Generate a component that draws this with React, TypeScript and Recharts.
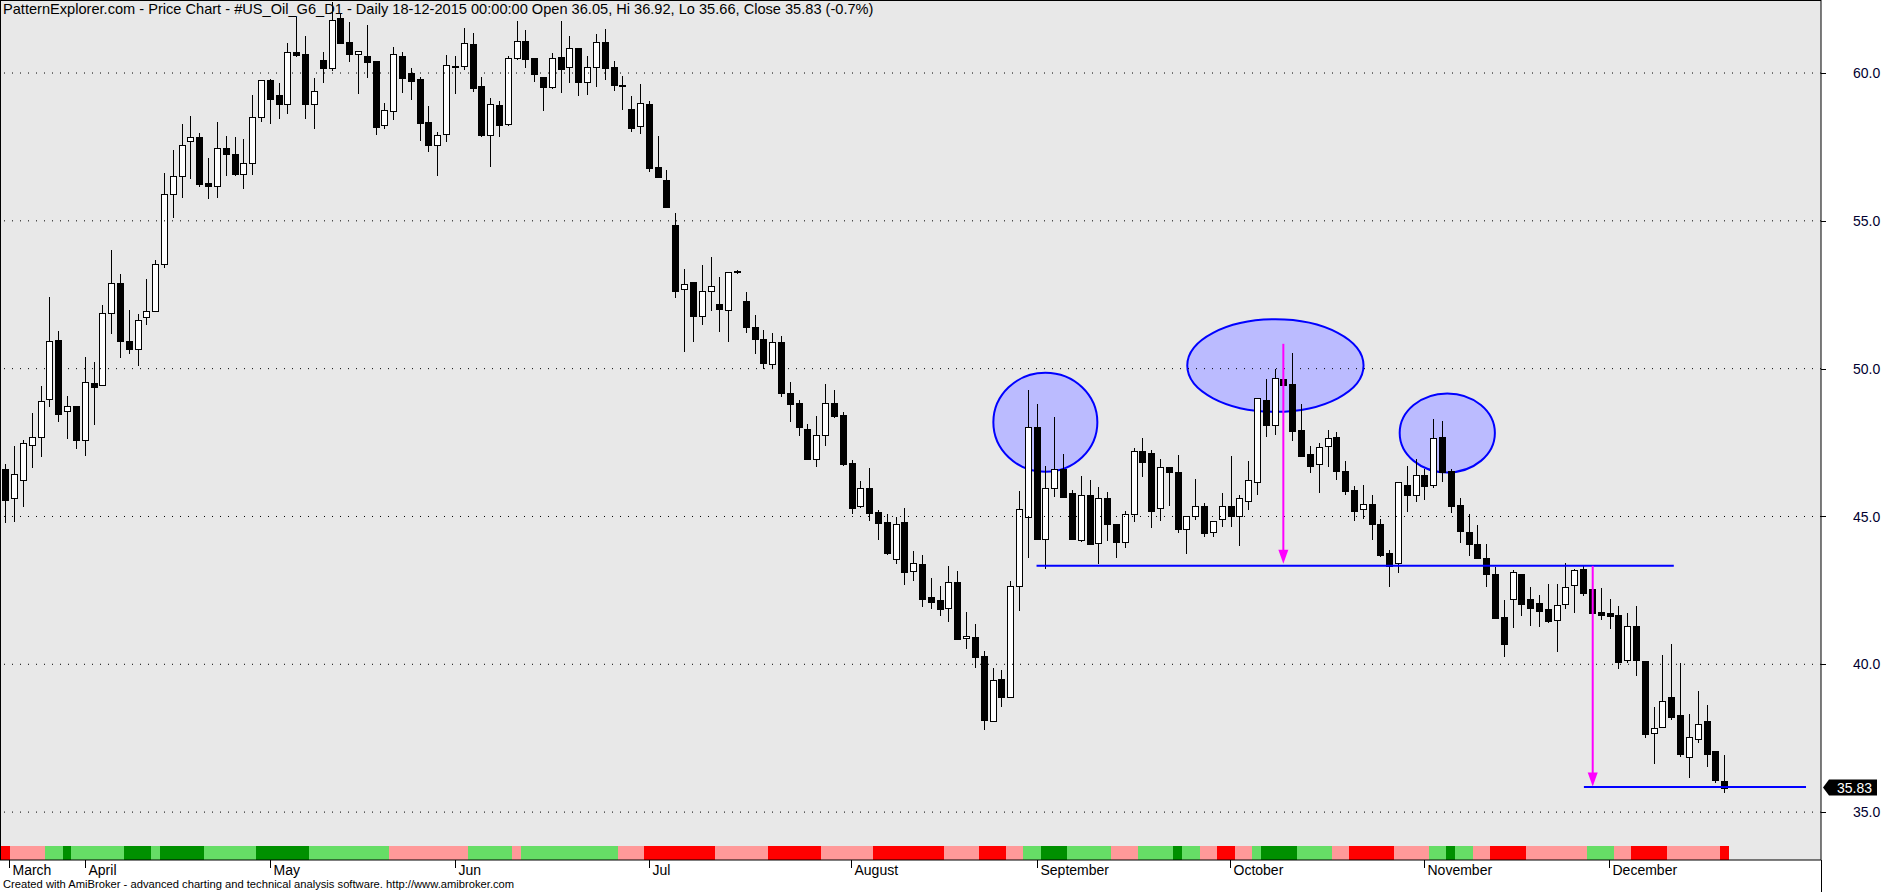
import React from "react";
import { ComposedChart, Bar, Cell, XAxis, YAxis, CartesianGrid, ReferenceLine, ReferenceArea } from "recharts";

// daily bars, 20-03-2015 .. 18-12-2015
const OPEN = [
	46.59, 45.63, 46.24, 47.43, 47.69, 48.99, 50.98, 48.58, 48.72, 47.59, 49.53, 49.45, 51.89, 52.91, 50.95, 50.66, 51.75, 51.96, 53.55, 55.91,
	56.52, 57.7, 57.84, 56.28, 56.17, 57.47, 57.26, 56.59, 56.96, 58.5, 59.75, 59.25, 58.96, 60.7, 60.64, 58.96, 60.43, 60.18, 61.85, 61.04,
	60.63, 60.56, 60.39, 58.23, 58.7, 60.56, 59.99, 59.79, 58.33, 57.56, 57.93, 60.22, 60.23, 60.98, 59.55, 57.91, 58.91, 58.26, 60.5, 61.07,
	60.51, 59.86, 59.54, 60.54, 60.19, 60.83, 59.68, 60.19, 61.04, 60.19, 59.6, 58.78, 58.2, 58.94, 56.81, 56.37, 54.86, 52.68, 52.92, 51.77,
	52.62, 52.18, 52.0, 53.28, 52.3, 51.4, 51.0, 50.17, 50.9, 49.17, 48.83, 47.97, 46.96, 47.74, 48.85, 48.42, 46.8, 45.34, 45.96, 45.15,
	44.81, 43.55, 44.81, 43.14, 43.38, 42.27, 42.17, 41.89, 42.78, 40.88, 40.92, 40.28, 38.07, 39.5, 38.91, 42.64, 44.97, 48.02, 44.25, 45.95,
	46.6, 45.81, 44.21, 45.71, 44.09, 45.61, 44.76, 44.12, 45.07, 47.2, 47.16, 45.27, 46.67, 46.52, 44.58, 45.03, 45.34, 44.49, 44.9, 45.34,
	45.02, 45.54, 46.18, 48.95, 48.11, 49.66, 49.49, 47.94, 47.13, 46.79, 47.38, 47.7, 46.55, 45.88, 45.24, 45.41, 44.73, 43.75, 43.41, 46.05,
	45.71, 46.39, 46.08, 47.7, 46.55, 45.38, 44.49, 44.07, 43.61, 43.05, 41.6, 42.2, 43.04, 42.2, 42.06, 41.86, 41.49, 42.03, 42.67, 43.24,
	42.53, 41.77, 41.73, 41.66, 40.14, 41.3, 40.11, 37.67, 37.87, 38.89, 38.28, 36.86, 37.47, 38.07, 37.06, 36.05,
];
const HIGH = [
	46.76, 47.38, 47.57, 48.49, 49.4, 52.41, 51.28, 49.09, 48.75, 50.38, 50.21, 52.17, 54.0, 53.19, 51.99, 51.86, 53.02, 53.68, 56.63, 57.38,
	58.29, 58.56, 57.98, 57.14, 58.36, 57.88, 57.82, 57.78, 59.27, 59.78, 59.79, 59.66, 61.0, 61.88, 61.25, 59.82, 60.7, 62.4, 62.0, 61.72,
	60.73, 61.61, 60.39, 58.98, 60.88, 60.7, 60.16, 59.85, 58.87, 58.0, 60.61, 60.57, 61.51, 61.35, 59.85, 59.14, 59.06, 60.56, 61.75, 61.44,
	60.51, 59.86, 60.68, 61.76, 61.25, 60.83, 60.57, 61.32, 61.49, 60.41, 59.9, 59.22, 59.63, 59.05, 57.87, 56.72, 55.28, 53.37, 52.92, 53.5,
	53.78, 53.1, 53.28, 53.35, 52.6, 51.8, 51.3, 51.2, 51.1, 49.56, 48.95, 48.14, 48.39, 49.47, 49.29, 48.55, 46.9, 46.19, 46.63, 45.21,
	45.1, 44.98, 45.28, 43.83, 43.69, 42.92, 42.65, 43.32, 43.15, 41.77, 41.36, 40.45, 39.88, 39.81, 42.82, 45.86, 49.27, 48.8, 46.7, 48.36,
	47.13, 45.88, 46.36, 46.22, 45.99, 45.82, 44.76, 45.19, 47.3, 47.65, 47.26, 46.96, 46.67, 47.09, 45.03, 46.28, 45.44, 44.83, 45.79, 47.04,
	45.74, 46.86, 49.02, 49.64, 49.98, 50.84, 50.54, 48.82, 47.38, 47.47, 47.92, 47.85, 46.87, 46.02, 46.06, 45.71, 44.9, 43.86, 46.15, 46.72,
	46.96, 46.62, 48.31, 48.22, 46.59, 45.62, 45.08, 44.71, 44.07, 43.29, 42.16, 43.18, 43.07, 42.61, 42.34, 42.71, 42.71, 43.41, 43.22, 43.35,
	42.7, 42.57, 42.2, 41.96, 41.73, 41.96, 40.11, 38.56, 40.32, 40.69, 40.05, 38.32, 39.1, 38.63, 37.06, 36.92,
];
const LOW = [
	44.79, 44.82, 45.33, 46.63, 47.02, 48.7, 48.2, 47.62, 47.29, 47.05, 48.1, 49.45, 51.16, 50.36, 50.5, 50.09, 51.48, 51.9, 53.4, 55.09,
	55.77, 56.41, 56.14, 55.73, 55.77, 56.51, 56.53, 56.07, 56.54, 58.36, 58.29, 58.46, 58.63, 60.53, 58.46, 58.12, 59.67, 60.08, 60.99, 60.36,
	59.3, 59.84, 57.92, 58.09, 58.42, 59.34, 59.1, 57.71, 57.34, 56.5, 57.68, 59.3, 60.09, 59.35, 57.83, 56.83, 57.85, 58.2, 60.45, 60.18,
	59.71, 58.73, 59.45, 59.33, 59.67, 59.23, 59.27, 59.54, 59.76, 59.4, 58.76, 58.02, 57.95, 56.66, 56.49, 55.42, 52.4, 50.57, 50.91, 51.48,
	51.96, 51.25, 50.89, 53.2, 51.2, 50.48, 50.0, 50.0, 49.04, 48.2, 47.73, 46.91, 46.68, 47.38, 48.32, 46.7, 45.08, 45.29, 44.85, 44.2,
	43.69, 43.38, 42.68, 42.83, 41.95, 41.88, 41.64, 41.44, 40.83, 40.53, 39.89, 37.79, 38.07, 38.54, 38.9, 41.81, 43.61, 44.2, 43.23, 45.66,
	45.66, 44.25, 44.14, 44.08, 43.4, 44.18, 43.61, 43.94, 44.82, 46.34, 44.62, 44.86, 45.37, 44.43, 43.74, 44.88, 44.31, 44.31, 44.65, 44.65,
	44.01, 45.21, 45.73, 47.69, 47.76, 49.3, 47.56, 47.05, 46.48, 45.8, 46.68, 46.23, 45.72, 44.85, 44.92, 44.21, 43.64, 42.62, 43.1, 45.15,
	45.5, 45.56, 45.97, 46.17, 45.12, 44.11, 43.67, 43.57, 42.62, 41.55, 40.26, 41.24, 41.64, 41.31, 41.27, 41.39, 40.43, 41.88, 41.75, 42.32,
	41.7, 41.5, 41.19, 39.84, 40.06, 39.61, 37.52, 36.64, 37.83, 38.1, 36.85, 36.14, 37.35, 36.54, 36.0, 35.66,
];
const CLOSE = [
	45.56, 46.42, 47.47, 47.7, 48.92, 50.95, 48.48, 48.72, 47.59, 49.56, 49.38, 51.89, 52.91, 50.93, 50.66, 51.66, 51.96, 53.53, 55.91, 56.52,
	57.57, 57.84, 56.24, 56.17, 57.47, 57.25, 56.57, 56.96, 58.51, 59.75, 59.13, 58.96, 60.7, 60.6, 58.96, 59.38, 60.18, 61.8, 61.02, 60.66,
	60.73, 60.38, 58.19, 58.74, 60.63, 59.84, 59.74, 58.32, 57.55, 57.92, 60.26, 60.24, 61.0, 59.5, 57.92, 58.94, 58.25, 60.5, 61.07, 60.48,
	59.98, 59.54, 60.5, 60.15, 60.83, 59.71, 60.19, 61.04, 60.18, 59.61, 59.58, 58.15, 58.97, 56.8, 56.49, 55.47, 52.64, 52.87, 51.79, 52.62,
	52.81, 52.01, 53.28, 53.3, 51.4, 51.0, 50.19, 50.9, 49.18, 48.81, 48.03, 46.94, 47.74, 48.85, 48.4, 46.78, 45.29, 45.95, 45.12, 44.79,
	43.77, 44.76, 43.13, 43.41, 42.22, 42.12, 41.88, 42.77, 40.87, 40.95, 40.23, 38.1, 39.46, 38.91, 42.64, 45.24, 48.04, 44.25, 45.98, 46.62,
	45.66, 44.25, 45.71, 44.08, 45.64, 44.76, 44.12, 45.07, 47.23, 46.85, 45.19, 46.69, 46.51, 44.58, 45.03, 45.34, 44.45, 44.83, 45.34, 45.02,
	45.63, 46.22, 49.02, 48.1, 49.7, 49.45, 47.89, 47.05, 46.71, 47.36, 47.67, 46.54, 45.87, 45.19, 45.41, 44.73, 43.7, 43.34, 46.15, 45.73,
	46.39, 46.04, 47.64, 46.51, 45.36, 44.52, 44.08, 43.6, 43.04, 41.58, 40.7, 43.11, 42.05, 41.91, 41.81, 41.48, 41.99, 42.6, 43.18, 42.42,
	41.75, 41.68, 41.64, 40.09, 41.28, 40.16, 37.64, 37.84, 38.75, 38.23, 36.98, 37.53, 37.97, 36.98, 36.1, 35.83,
];

// bottom strip: colour code and number of bars
const STRIP_RUNS: [string, number][] = [
	["R", 1], ["P", 4], ["G", 2], ["D", 1], ["G", 6], ["D", 3], ["G", 1], ["D", 5], ["G", 6], ["D", 6], ["G", 9], ["P", 9],
	["G", 5], ["P", 1], ["G", 11], ["P", 3], ["R", 8], ["P", 6], ["R", 6], ["P", 6], ["R", 8], ["P", 4], ["R", 3], ["P", 2],
	["G", 2], ["D", 3], ["G", 5], ["P", 3], ["G", 4], ["D", 1], ["G", 2], ["P", 2], ["R", 2], ["P", 2], ["G", 1], ["D", 4],
	["G", 4], ["P", 2], ["R", 5], ["P", 4], ["G", 2], ["D", 1], ["G", 2], ["P", 2], ["R", 4], ["P", 7], ["G", 3], ["P", 2],
	["R", 4], ["P", 6], ["R", 1],
];
const STRIP_COLORS: Record<string, string> = { R: "#ff0000", P: "#ff9999", G: "#66dd66", D: "#009000" };

const MONTHS = ["March", "April", "May", "Jun", "Jul", "August", "September", "October", "November", "December"];
const MONTH_IDX = [0.4, 9, 30, 51, 73, 96, 117, 139, 161, 182];
const PRICE_TICKS = [35, 40, 45, 50, 55, 60];
const LAST_CLOSE = 35.83;

// head & shoulders markup
const ELLIPSES = [
	{ x1: 112.1, x2: 123.9, y1: 46.51, y2: 49.86 },
	{ x1: 134.1, x2: 154.1, y1: 48.54, y2: 51.67 },
	{ x1: 158.2, x2: 169.0, y1: 46.49, y2: 49.16 },
];
const BLUE_LINES = [
	{ x1: 117, x2: 189.3, y: 43.33 },
	{ x1: 179.1, x2: 204.3, y: 35.85 },
];
const ARROWS = [
	{ x: 145, from: 50.84, to: 43.4 },
	{ x: 180.1, from: 43.33, to: 35.87 },
];

const FONT = '"Liberation Sans", Arial, sans-serif';
const W = 1891;
const H = 892;

const strip = STRIP_RUNS.flatMap(([c, n]) => Array(n).fill(c) as string[]);
const data = OPEN.map((o, i) => ({
	i,
	open: o,
	high: HIGH[i],
	low: LOW[i],
	close: CLOSE[i],
	s: 1,
	color: STRIP_COLORS[strip[i]] ?? "#ff9999",
}));

const Candle = (props: any) => {
	const { x, y, width, height, payload } = props;
	const { open, close, high, low } = payload;
	const cx = Math.round(x + width / 2) + 0.5;
	const ppu = high > low ? height / (high - low) : 0;
	const top = Math.round(y + (high - Math.max(open, close)) * ppu);
	const bot = Math.round(y + (high - Math.min(open, close)) * ppu);
	return (
		<g shapeRendering="crispEdges">
			<line x1={cx} x2={cx} y1={Math.round(y)} y2={Math.round(y + height)} stroke="#000" />
			<rect
				x={cx - 3}
				y={top + 0.5}
				width={6}
				height={Math.max(bot - top, 1)}
				fill={close >= open ? "#fff" : "#000"}
				stroke="#000"
			/>
		</g>
	);
};

const StripCell = (props: any) => {
	const { x, y, width, height, fill } = props;
	const l = Math.round(x);
	const r = Math.round(x + width);
	return <rect x={l} y={Math.round(y)} width={r - l} height={Math.round(height)} fill={fill} shapeRendering="crispEdges" />;
};

const EllipseShape = (p: any) => (
	<ellipse
		cx={p.x + p.width / 2}
		cy={p.y + p.height / 2}
		rx={p.width / 2}
		ry={p.height / 2}
		fill="#bbbbff"
		stroke="#0000ff"
		strokeWidth={2}
	/>
);

const ArrowShape = (p: any) => {
	const { x1, y1, x2, y2 } = p;
	return (
		<g>
			<line x1={x1} y1={y1} x2={x2} y2={y2 - 10} stroke="#ff00ff" strokeWidth={2} />
			<polygon points={`${x2 - 5},${y2 - 14} ${x2 + 5},${y2 - 14} ${x2},${y2}`} fill="#ff00ff" />
		</g>
	);
};

const PriceTick = (p: any) => {
	const { x, y, payload } = p;
	const v = payload.value;
	if (v === LAST_CLOSE) {
		return (
			<g>
				<polygon points={`${x + 2},${y} ${x + 8},${y - 8} ${x + 56},${y - 8} ${x + 56},${y + 8} ${x + 8},${y + 8}`} fill="#000" />
				<text x={x + 16} y={y} dy="0.36em" fontSize={14} fontFamily={FONT} fill="#fff">
					{v.toFixed(2)}
				</text>
			</g>
		);
	}
	return (
		<g>
			<line x1={x} x2={x + 5} y1={Math.round(y) + 0.5} y2={Math.round(y) + 0.5} stroke="#000" />
			<text x={x + 32} y={y} dy="0.36em" fontSize={14} fontFamily={FONT} fill="#000030">
				{v.toFixed(1)}
			</text>
		</g>
	);
};

const MonthTick = (p: any) => {
	const { x, y, payload } = p;
	const k = MONTH_IDX.indexOf(payload.value);
	const tx = Math.round(x) + 0.5;
	return (
		<g>
			<line x1={tx} x2={tx} y1={y} y2={y + 8} stroke="#000" />
			<text x={tx + 3} y={y + 15} fontSize={14} fontFamily={FONT} fill="#000">
				{MONTHS[k]}
			</text>
		</g>
	);
};

export default function App() {
	return (
		<div style={{ position: "absolute", left: 0, top: 0, width: W, height: H, background: "#fff", overflow: "hidden" }}>
			<ComposedChart
				width={W}
				height={H}
				data={data}
				margin={{ top: 0, right: 0, bottom: 0, left: 0 }}
				barCategoryGap={0}
				barGap={0}
			>
				<CartesianGrid fill="#e8e8e8" horizontal={false} vertical={false} />
				<XAxis
					dataKey="i"
					type="number"
					domain={[-0.6, 206]}
					allowDataOverflow
					ticks={MONTH_IDX}
					interval={0}
					height={32}
					tickSize={0}
					tickMargin={0}
					tickLine={false}
					axisLine={{ stroke: "#000" }}
					tick={<MonthTick />}
				/>
				<XAxis xAxisId="s" dataKey="i" type="number" domain={[-0.6, 206]} allowDataOverflow hide />
				<YAxis
					orientation="right"
					width={70}
					domain={[33.38, 62.47]}
					allowDataOverflow
					ticks={[...PRICE_TICKS, LAST_CLOSE]}
					interval={0}
					tickSize={0}
					tickMargin={0}
					tickLine={false}
					axisLine={{ stroke: "#000" }}
					tick={<PriceTick />}
				/>
				<YAxis yAxisId="s" domain={[0, 860 / 14]} allowDataOverflow hide />

				{PRICE_TICKS.map((v) => (
					<ReferenceLine key={v} y={v} stroke="#000" strokeDasharray="1 7" />
				))}
				{ELLIPSES.map((e, k) => (
					<ReferenceArea key={k} x1={e.x1} x2={e.x2} y1={e.y1} y2={e.y2} shape={EllipseShape} />
				))}

				<Bar xAxisId="s" yAxisId="s" dataKey="s" shape={StripCell} isAnimationActive={false}>
					{data.map((d) => (
						<Cell key={d.i} fill={d.color} />
					))}
				</Bar>
				<Bar dataKey={(d: any) => [d.low, d.high]} shape={Candle} isAnimationActive={false} />

				{BLUE_LINES.map((l, k) => (
					<ReferenceLine
						key={k}
						segment={[
							{ x: l.x1, y: l.y },
							{ x: l.x2, y: l.y },
						]}
						stroke="#0000ff"
						strokeWidth={2}
					/>
				))}
				{ARROWS.map((a, k) => (
					<ReferenceLine
						key={k}
						segment={[
							{ x: a.x, y: a.from },
							{ x: a.x, y: a.to },
						]}
						shape={ArrowShape}
					/>
				))}
			</ComposedChart>

			<div style={{ position: "absolute", left: 0, top: 0, width: 1821, height: 1, background: "#000" }} />
			<div style={{ position: "absolute", left: 0, top: 0, width: 1, height: 860, background: "#000" }} />
			<div style={{ position: "absolute", left: 1821, top: 860, width: 1, height: 32, background: "#000" }} />
			<div
				style={{
					position: "absolute",
					left: 3,
					top: 1,
					fontFamily: FONT,
					fontSize: 14.6,
					lineHeight: "16px",
					color: "#000",
					whiteSpace: "nowrap",
				}}
			>
				PatternExplorer.com - Price Chart - #US_Oil_G6_D1 - Daily 18-12-2015 00:00:00 Open 36.05, Hi 36.92, Lo 35.66, Close 35.83 (-0.7%)
			</div>
			<div
				style={{
					position: "absolute",
					left: 3,
					top: 878,
					fontFamily: FONT,
					fontSize: 11.2,
					lineHeight: "13px",
					color: "#000",
					whiteSpace: "nowrap",
				}}
			>
				Created with AmiBroker - advanced charting and technical analysis software. http://www.amibroker.com
			</div>
		</div>
	);
}
